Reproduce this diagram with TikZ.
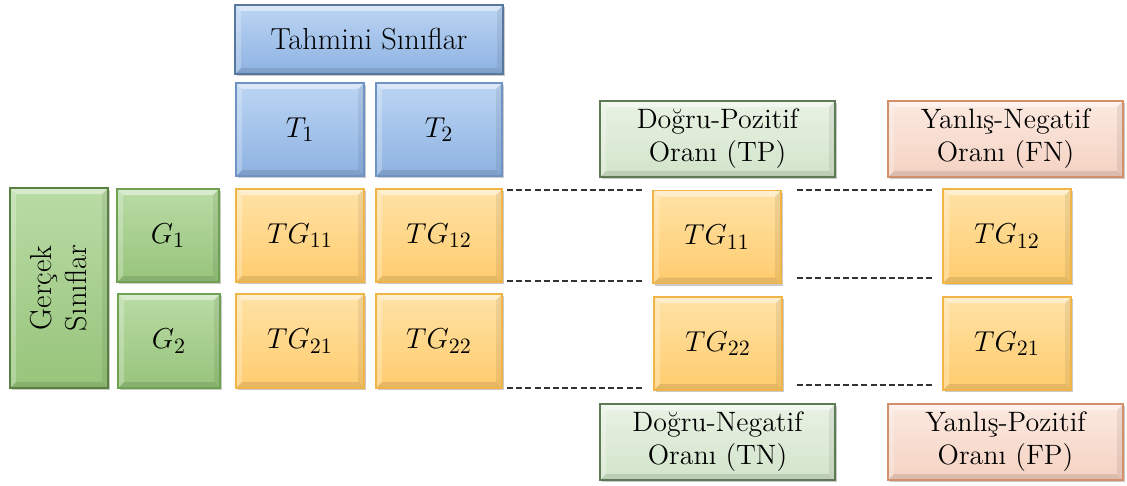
\documentclass[tikz,border=0pt]{standalone}
\usepackage{fontspec}
\usetikzlibrary{shadows,calc}

\definecolor{bluetop}{HTML}{BCD5F3}
\definecolor{bluebot}{HTML}{8DB2E2}
\definecolor{blueln}{HTML}{6F93C4}
\definecolor{greentop}{HTML}{B9DBA5}
\definecolor{greenbot}{HTML}{97C47B}
\definecolor{greenln}{HTML}{6FA152}
\definecolor{orgtop}{HTML}{FFE2A6}
\definecolor{orgbot}{HTML}{FFCC6E}
\definecolor{orgln}{HTML}{F0B447}
\definecolor{lgtop}{HTML}{E9F2E4}
\definecolor{lgbot}{HTML}{D2E4CA}
\definecolor{lgln}{HTML}{5E7A55}
\definecolor{pchtop}{HTML}{FCE9E0}
\definecolor{pchbot}{HTML}{F4D2C2}
\definecolor{pchln}{HTML}{D2916A}
\definecolor{dashcol}{HTML}{333333}

\tikzset{
  bevel/.style={path picture={
    \fill[white,opacity=.45] (path picture bounding box.north west) -- (path picture bounding box.north east)
      -- ([shift={(-3pt,-3pt)}]path picture bounding box.north east) -- ([shift={(3pt,-3pt)}]path picture bounding box.north west) -- cycle;
    \fill[white,opacity=.25] (path picture bounding box.north west) -- (path picture bounding box.south west)
      -- ([shift={(3pt,3pt)}]path picture bounding box.south west) -- ([shift={(3pt,-3pt)}]path picture bounding box.north west) -- cycle;
    \fill[black,opacity=.10] (path picture bounding box.south west) -- (path picture bounding box.south east)
      -- ([shift={(-3pt,3pt)}]path picture bounding box.south east) -- ([shift={(3pt,3pt)}]path picture bounding box.south west) -- cycle;
    \fill[black,opacity=.07] (path picture bounding box.north east) -- (path picture bounding box.south east)
      -- ([shift={(-3pt,3pt)}]path picture bounding box.south east) -- ([shift={(-3pt,-3pt)}]path picture bounding box.north east) -- cycle;
  }},
  box/.style={rectangle, draw, line width=0.8pt, inner sep=0pt, bevel, align=center,
    drop shadow={shadow xshift=1.2pt, shadow yshift=-1.2pt, opacity=.35, fill=black!60}},
  bluebox/.style={box, top color=bluetop, bottom color=bluebot, draw=blueln},
  greenbox/.style={box, top color=greentop, bottom color=greenbot, draw=greenln},
  orgbox/.style={box, top color=orgtop, bottom color=orgbot, draw=orgln},
  lgbox/.style={box, top color=lgtop, bottom color=lgbot, draw=lgln,
    font=\fontsize{14}{16.5}\selectfont, minimum width=117.5pt, minimum height=38pt},
  pchbox/.style={box, top color=pchtop, bottom color=pchbot, draw=pchln,
    font=\fontsize{14}{16.5}\selectfont, minimum width=117.5pt, minimum height=38pt},
  cell/.style={minimum width=64pt, minimum height=46.5pt, font=\fontsize{15}{17}\selectfont},
  headfont/.style={font=\fontsize{15.2}{17.5}\selectfont},
  dashline/.style={draw=dashcol, line width=0.75pt, dash pattern=on 3pt off 1.6pt}
}

\begin{document}
\begin{tikzpicture}[x=0.5pt,y=-0.5pt]
\useasboundingbox (0,0) rectangle (1127,486);

% header
\node[bluebox, headfont, minimum width=134pt, minimum height=34.5pt, draw=blueln!80!black] (tah) at (369,39.5) {Tahmini Sınıflar};
\node[bluebox, cell] (t1) at (300,129.5) {$T_1$};
\node[bluebox, cell, minimum width=63pt] (t2) at (439,129.5) {$T_2$};

% actual classes
\node[greenbox, minimum width=49pt, minimum height=100pt, draw=greenln!80!black] (ger) at (59,288) {};
\node[headfont, rotate=90, align=center] (gertext) at (ger.center) {Gerçek\\Sınıflar};
\node[greenbox, cell, minimum width=51pt] (g1) at (168,235.5) {$G_1$};
\node[greenbox, cell, minimum width=51pt, minimum height=47pt] (g2) at (169,341) {$G_2$};

% matrix
\node[orgbox, cell] (tg11) at (300,235.5) {$TG_{11}$};
\node[orgbox, cell, minimum width=63pt] (tg12) at (439,235.5) {$TG_{12}$};
\node[orgbox, cell, minimum height=47pt] (tg21) at (300,341) {$TG_{21}$};
\node[orgbox, cell, minimum width=63pt, minimum height=47pt] (tg22) at (439,341) {$TG_{22}$};

% ratio labels
\node[lgbox] (tp) at (717.5,139) {Doğru-Pozitif\\Oranı (TP)};
\node[pchbox] (fn) at (1005.5,139) {Yanlış-Negatif\\Oranı (FN)};
\node[lgbox] (tn) at (717.5,442) {Doğru-Negatif\\Oranı (TN)};
\node[pchbox] (fp) at (1005.5,442) {Yanlış-Pozitif\\Oranı (FP)};

% separated cells
\node[orgbox, cell] (rtg11) at (717,237) {$TG_{11}$};
\node[orgbox, cell] (rtg22) at (718,343.5) {$TG_{22}$};
\node[orgbox, cell, minimum height=47pt] (rtg12) at (1007,236) {$TG_{12}$};
\node[orgbox, cell] (rtg21) at (1007,343.5) {$TG_{21}$};

% dashed guide lines
\coordinate (la1) at (507,190);  \coordinate (lb1) at (643,190);
\coordinate (la2) at (507,281);  \coordinate (lb2) at (643,281);
\coordinate (la3) at (507,388);  \coordinate (lb3) at (643,388);
\coordinate (ra1) at (797,190);  \coordinate (rb1) at (933,190);
\coordinate (ra2) at (797,278);  \coordinate (rb2) at (933,278);
\coordinate (ra3) at (797,385);  \coordinate (rb3) at (933,385);
\foreach \i in {1,2,3}{
  \draw[dashline] (la\i) -- (lb\i);
  \draw[dashline] (ra\i) -- (rb\i);
}
\end{tikzpicture}
\end{document}
